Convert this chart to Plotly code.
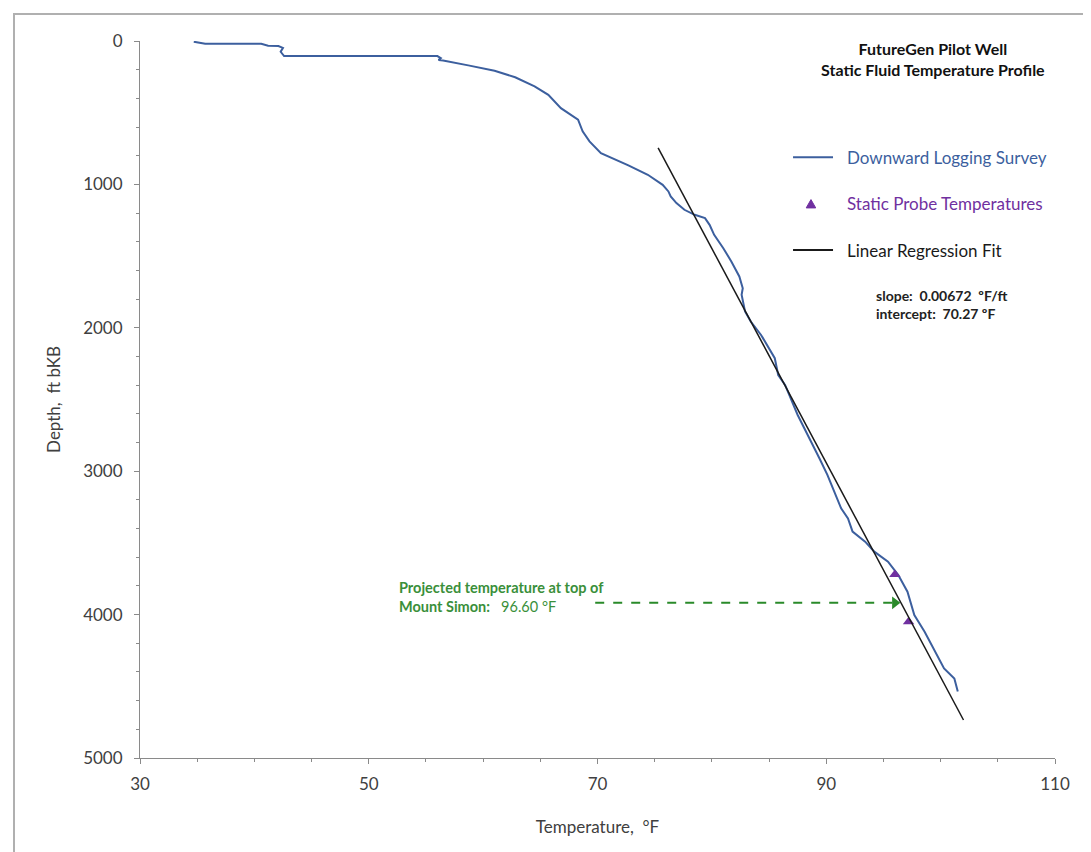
import plotly.graph_objects as go

# downward logging survey (temp degF, depth ft)
survey_temp = [34.7, 35.7, 40.6, 41.2, 42.1, 42.5, 42.3, 42.6, 56.0, 56.3, 56.1, 56.5,
               58.7, 61.0, 62.8, 64.5, 65.7, 66.8, 68.3, 68.7, 69.3, 70.3,
               72.7, 74.4, 75.7, 76.2, 76.4, 76.9, 77.6, 78.5, 79.4, 79.8, 80.2,
               81.0, 81.7, 82.4, 82.7, 82.6, 82.9, 83.4, 84.3, 85.5, 85.8, 86.4,
               87.5, 88.4, 89.4, 90.1, 90.7, 91.3, 91.9, 92.3, 93.4, 94.2, 95.4,
               96.3, 97.1, 97.7, 98.6, 99.5, 100.3, 101.2, 101.5]
survey_depth = [5, 19, 19, 33, 35, 48, 75, 105, 105, 119, 133, 136,
                170, 207, 253, 316, 375, 468, 549, 630, 700, 782,
                867, 933, 1003, 1049, 1084, 1130, 1177, 1212, 1235, 1282, 1352,
                1445, 1537, 1642, 1724, 1770, 1886, 1956, 2050, 2212, 2329, 2398,
                2608, 2747, 2910, 3026, 3142, 3259, 3329, 3421, 3491, 3561, 3631,
                3724, 3840, 4003, 4119, 4259, 4375, 4445, 4536]

probe_temp = [96.0, 97.2]
probe_depth = [3720, 4050]

fit_temp = [75.3, 102.0]
fit_depth = [745, 4735]

arrow_temp = [69.8, 96.0]
arrow_depth = [3918, 3918]

legend_labels = ['Downward Logging Survey', 'Static Probe Temperatures', 'Linear Regression Fit']

FONT = "Lato, 'Open Sans', sans-serif"
BLUE = '#3c5f9e'
PURPLE = '#7030a0'
BLACK = '#1a1a1a'
GREEN = '#2a8a2a'

fig = go.Figure()

fig.add_trace(go.Scatter(x=survey_temp, y=survey_depth, mode='lines',
                         line=dict(color=BLUE, width=2), name=legend_labels[0]))
fig.add_trace(go.Scatter(x=probe_temp, y=probe_depth, mode='markers',
                         marker=dict(symbol='triangle-up', color=PURPLE, size=10),
                         name=legend_labels[1]))
fig.add_trace(go.Scatter(x=fit_temp, y=fit_depth, mode='lines',
                         line=dict(color=BLACK, width=1.5), name=legend_labels[2]))
# green dashed pointer to the top of Mount Simon
fig.add_trace(go.Scatter(x=arrow_temp, y=arrow_depth, mode='lines',
                         line=dict(color=GREEN, width=2, dash='dash'), hoverinfo='skip'))
fig.add_trace(go.Scatter(x=arrow_temp[-1:], y=arrow_depth[-1:], mode='markers',
                         marker=dict(symbol='triangle-right', color=GREEN, size=11),
                         hoverinfo='skip'))

# hand-made legend (Excel style: long samples, coloured labels)
leg_y = [0.838, 0.773, 0.7085]
leg_colors = [BLUE, PURPLE, BLACK]
for i in [0, 2]:
    fig.add_shape(type='line', xref='paper', yref='paper',
                  x0=0.7137, x1=0.7574, y0=leg_y[i], y1=leg_y[i],
                  line=dict(color=leg_colors[i], width=2 if i == 0 else 1.8))
tx, ty, hw, hh = 0.7333, leg_y[1], 0.0052, 0.0058
fig.add_shape(type='path', xref='paper', yref='paper',
              path=f'M {tx-hw},{ty-hh} L {tx+hw},{ty-hh} L {tx},{ty+hh} Z',
              fillcolor=PURPLE, line=dict(color=PURPLE, width=1))
for i in range(3):
    fig.add_annotation(x=0.7705, y=leg_y[i], xref='paper', yref='paper',
                       xanchor='left', yanchor='middle', text=legend_labels[i],
                       showarrow=False, font=dict(size=17, color=leg_colors[i], family=FONT))

fig.add_annotation(
    x=0.8667, y=1.006, xref='paper', yref='paper', xanchor='center', yanchor='top',
    text='<b>FutureGen Pilot Well<br>Static Fluid Temperature Profile</b>',
    showarrow=False, font=dict(size=16, color='#111111', family=FONT)
)
fig.add_annotation(
    x=0.802, y=0.633, xref='paper', yref='paper', xanchor='left', yanchor='middle',
    align='left', showarrow=False,
    text='<b>slope:&nbsp; 0.00672 &nbsp;ºF/ft<br>intercept:&nbsp; 70.27 ºF</b>',
    font=dict(size=14, color='#222222', family=FONT)
)
fig.add_annotation(
    x=52.5, y=3880, xanchor='left', yanchor='middle', align='left', showarrow=False,
    text='<b>Projected temperature at top of<br>Mount Simon:</b>&nbsp;&nbsp; 96.60 °F',
    font=dict(size=14.5, color='#3a8f3a', family=FONT)
)

# grey frame around the whole chart
fig.add_shape(type='rect', xref='paper', yref='paper',
              x0=-0.1377, x1=1.0426, y0=-0.1339, y1=1.0377,
              line=dict(color='#b0b0b0', width=2), fillcolor='rgba(0,0,0,0)')

fig.update_xaxes(
    range=[30, 110], dtick=20, tick0=30,
    showline=True, linecolor='#8a8a8a', linewidth=1,
    ticks='outside', ticklen=5, tickcolor='#8a8a8a', ticklabelstandoff=6,
    minor=dict(dtick=5, ticks='outside', ticklen=3, tickcolor='#8a8a8a'),
    showgrid=False, zeroline=False,
    tickfont=dict(size=17, color='#404040', family=FONT),
    title=dict(text='Temperature,&nbsp; °F', font=dict(size=17, color='#404040', family=FONT), standoff=27)
)
fig.update_yaxes(
    range=[5000, 0], dtick=1000,
    showline=True, linecolor='#8a8a8a', linewidth=1,
    ticks='outside', ticklen=5, tickcolor='#8a8a8a', ticklabelstandoff=8,
    minor=dict(dtick=200, ticks='outside', ticklen=3, tickcolor='#8a8a8a'),
    showgrid=False, zeroline=False,
    tickfont=dict(size=17, color='#404040', family=FONT),
    title=dict(text='Depth,&nbsp; ft bKB', font=dict(size=17, color='#404040', family=FONT), standoff=18)
)

fig.update_layout(
    width=1091, height=852,
    margin=dict(l=132, r=44, t=33, b=102),
    plot_bgcolor='white', paper_bgcolor='white',
    font=dict(family=FONT),
    showlegend=False
)

fig.write_html("out.html")
